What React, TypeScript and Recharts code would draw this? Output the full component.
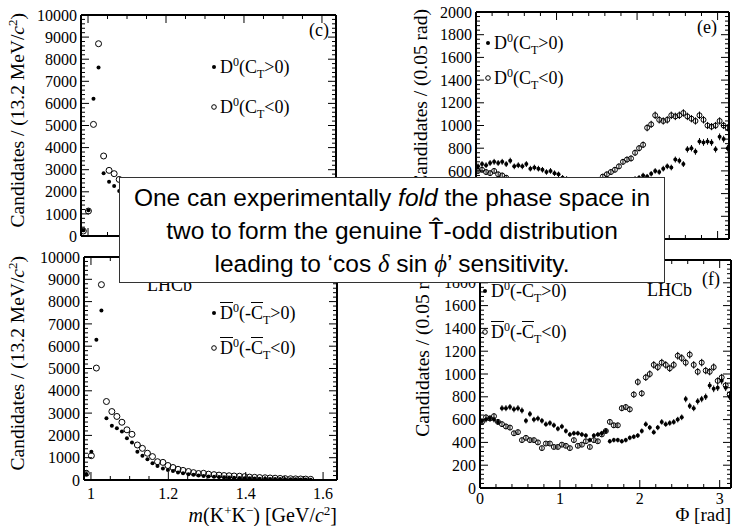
import React from "react";
import { ScatterChart, Scatter, XAxis, YAxis, ErrorBar } from "recharts";

const W = 732;
const H = 526;
const SERIF = '"Liberation Serif", "Times New Roman", serif';
const SANS = '"Liberation Sans", Arial, sans-serif';

// m(K+K-) bin centres, 13.2 MeV bins
const massBins = [
  0.988, 1.001, 1.014, 1.027, 1.04, 1.054, 1.067, 1.08, 1.093, 1.106, 1.12, 1.133, 1.146, 1.159, 1.172,
  1.186, 1.199, 1.212, 1.225, 1.238, 1.252, 1.265, 1.278, 1.291, 1.304, 1.318, 1.331, 1.344, 1.357, 1.37,
  1.384, 1.397, 1.41, 1.423, 1.436, 1.45, 1.463, 1.476, 1.489, 1.502, 1.516, 1.529, 1.542, 1.555, 1.568,
];
// panel (c): D0
const d0PosMass = [
  256, 1160, 6210, 7620, 2840, 2460, 2260, 2040, 1900, 1700, 1300, 1100, 950, 780, 650, 540, 460, 400, 350,
  300, 260, 230, 200, 180, 160, 145, 130, 120, 110, 100, 90, 80, 75, 70, 60, 55, 50, 45, 40, 35, 35, 30, 25,
  20, 15,
];
const d0NegMass = [
  226, 1130, 5050, 8700, 3620, 2970, 2820, 2560, 2280, 2060, 1600, 1430, 1220, 1060, 840, 800, 660, 570, 490,
  440, 390, 340, 300, 300, 260, 240, 220, 200, 190, 180, 170, 150, 130, 120, 110, 100, 90, 80, 70, 60, 55, 50,
  45, 40, 30,
];
// panel (d): D0bar
const dbPosMass = [
  270, 1270, 6290, 7600, 2770, 2430, 2320, 2170, 1870, 1680, 1270, 1090, 930, 750, 630, 520, 450, 400, 340,
  300, 260, 230, 200, 180, 160, 150, 130, 120, 110, 100, 90, 80, 75, 70, 60, 55, 50, 45, 40, 35, 35, 30, 25,
  20, 15,
];
const dbNegMass = [
  300, 1090, 5020, 8760, 3520, 3070, 2850, 2590, 2250, 2050, 1570, 1420, 1200, 1050, 820, 790, 650, 560, 480,
  430, 380, 330, 290, 300, 260, 240, 220, 200, 190, 180, 170, 150, 130, 120, 110, 100, 90, 80, 70, 60, 55, 50,
  45, 40, 30,
];

// Phi bin centres, 0.05 rad bins
const phiBins = [
  0.025, 0.075, 0.125, 0.175, 0.225, 0.275, 0.325, 0.375, 0.425, 0.475, 0.525, 0.575, 0.625, 0.675, 0.725,
  0.775, 0.825, 0.875, 0.925, 0.975, 1.025, 1.075, 1.125, 1.175, 1.225, 1.275, 1.325, 1.375, 1.425, 1.475,
  1.525, 1.575, 1.625, 1.675, 1.725, 1.775, 1.825, 1.875, 1.925, 1.975, 2.025, 2.075, 2.125, 2.175, 2.225,
  2.275, 2.325, 2.375, 2.425, 2.475, 2.525, 2.575, 2.625, 2.675, 2.725, 2.775, 2.825, 2.875, 2.925, 2.975,
  3.025, 3.075, 3.125,
];
// panel (e): D0
const d0PosPhi = [
  640, 660, 650, 670, 680, 670, 680, 660, 690, 640, 650, 640, 660, 620, 630, 620, 610, 590, 600, 580,
  570, 540, 530, 520, 500, 490, 480, 470, 480, 470, 460, 470, 480, 470, 490, 500, 490, 510, 520, 530,
  540, 560, 550, 575, 600, 590, 620, 640, 630, 700, 690, 660, 790, 800, 770, 860, 850, 860, 850, 790,
  900, 880, 800,
];
const d0NegPhi = [
  600, 610, 590, 580, 600, 570, 560, 540, 520, 500, 490, 470, 460, 440, 430, 420, 410, 400, 410, 390,
  400, 390, 400, 410, 400, 420, 430, 440, 460, 480, 520, 550, 570, 590, 610, 640, 680, 700, 710, 760,
  800, 830, 980, 1010, 1090, 1050, 1040, 1050, 1090, 1080, 1090, 1110, 1080, 1060, 1040, 1090, 1050, 1000,
  990, 1000, 1040, 1000, 980,
];
// panel (f): D0bar
const dbPosPhi = [
  590, 600, 610, 600, 580, 700, 700, 710, 690, 700, 680, 590, 650, 600, 610, 590, 560, 570, 550, 520,
  540, 500, 470, 480, 480, 470, 460, 420, 460, 470, 480, 500, 410, 420, 420, 410, 420, 440, 450, 460,
  500, 560, 530, 490, 530, 580, 560, 570, 580, 600, 620, 780, 720, 700, 760, 780, 800, 900, 870, 880,
  940, 880, 800,
];
const dbNegPhi = [
  580, 620, 610, 630, 580, 560, 540, 530, 480, 490, 420, 440, 420, 420, 400, 350, 390, 390, 360, 360,
  380, 370, 350, 420, 370, 380, 410, 360, 420, 410, 470, 500, 580, 550, 550, 700, 710, 690, 820, 930,
  830, 970, 1000, 1080, 1060, 1100, 1080, 1050, 1080, 1160, 1140, 1100, 1170, 1080, 1020, 1100, 1030, 1020,
  1060, 940, 970, 900, 820,
];

// major ticks (and their labels)
const massYLabels = [0, 1000, 2000, 3000, 4000, 5000, 6000, 7000, 8000, 9000, 10000];
const massXLabels = [1, 1.2, 1.4, 1.6];
const phiYLabels = [0, 200, 400, 600, 800, 1000, 1200, 1400, 1600, 1800, 2000];
const phiXLabels = [0, 1, 2, 3];
// labels that are not hidden behind the text box
const phiYTextTop = [600, 800, 1000, 1200, 1400, 1600, 1800, 2000];
const phiYTextBottom = [0, 200, 400, 600, 800, 1000, 1200, 1400, 1600, 1800];

const range = (from: number, to: number, step: number) => {
  const out: number[] = [];
  for (let i = 0; from + i * step <= to + 1e-9; i++) out.push(+(from + i * step).toFixed(4));
  return out;
};

const massYTicks = range(0, 10000, 200);
const massXTicks = range(1, 1.6, 0.05);
const phiYTicks = range(0, 2000, 40);
const phiXTicks = range(0, 3, 0.2);

const toPoints = (xs: number[], ys: number[]) => xs.map((x, i) => ({ x, y: ys[i], err: Math.sqrt(ys[i]) }));

type Side = "left" | "right" | "top" | "bottom";

const has = (list: number[], v: number) => list.some((l) => Math.abs(l - v) < 1e-6);

// ROOT style: ticks point inwards, labels outside
function makeTick(side: Side, majors: number[], texts: number[], labelGap = 19) {
  return (props: any) => {
    const { x, y, payload } = props;
    const v = payload.value as number;
    const len = has(majors, v) ? 8 : 4;
    const ln =
      side === "left"
        ? { x1: x, x2: x + len, y1: y, y2: y }
        : side === "right"
        ? { x1: x, x2: x - len, y1: y, y2: y }
        : side === "top"
        ? { x1: x, x2: x, y1: y, y2: y + len }
        : { x1: x, x2: x, y1: y, y2: y - len };
    const show = has(texts, v);
    return (
      <g>
        <line {...ln} stroke="#000" strokeWidth={1} />
        {show && side === "left" && (
          <text x={x - 4} y={y} dy="0.35em" textAnchor="end" fontFamily={SERIF} fontSize={16} fill="#000">
            {String(v)}
          </text>
        )}
        {show && side === "bottom" && (
          <text x={x} y={y + labelGap} textAnchor="middle" fontFamily={SERIF} fontSize={16} fill="#000">
            {String(v)}
          </text>
        )}
      </g>
    );
  };
}

const dot = (p: any) => <circle cx={p.cx} cy={p.cy} r={2} fill="#000" />;
const ring = (r: number) => (p: any) => <circle cx={p.cx} cy={p.cy} r={r} fill="none" stroke="#000" strokeWidth={1} />;

interface PanelProps {
  box: { l: number; t: number; r: number; b: number };
  xDomain: [number, number];
  yDomain: [number, number];
  xTicks: number[];
  xLabels: number[];
  xText: number[];
  labelGap: number;
  yTicks: number[];
  yLabels: number[];
  yText: number[];
  filled: { x: number; y: number; err: number }[];
  open: { x: number; y: number; err: number }[];
  errors: boolean;
  ringR: number;
}

// axes are 1px thick so that recharts still draws them; margins are shifted by that pixel
function Panel(p: PanelProps) {
  const margin = { left: p.box.l - 1, top: p.box.t - 1, right: W - p.box.r - 1, bottom: H - p.box.b - 1 };
  const axisLine = { stroke: "#000", strokeWidth: 2 };
  return (
    <div style={{ position: "absolute", left: 0, top: 0 }}>
      <ScatterChart width={W} height={H} margin={margin}>
        <XAxis xAxisId="b" type="number" dataKey="x" domain={p.xDomain} ticks={p.xTicks} interval={0}
          orientation="bottom" height={1} tickSize={0} tickMargin={0} tickLine={false} axisLine={axisLine}
          tick={makeTick("bottom", p.xLabels, p.xText, p.labelGap)} allowDataOverflow />
        <XAxis xAxisId="t" type="number" dataKey="x" domain={p.xDomain} ticks={p.xTicks} interval={0}
          orientation="top" height={1} tickSize={0} tickMargin={0} tickLine={false} axisLine={axisLine}
          tick={makeTick("top", p.xLabels, [])} allowDataOverflow />
        <YAxis yAxisId="l" type="number" dataKey="y" domain={p.yDomain} ticks={p.yTicks} interval={0}
          orientation="left" width={1} tickSize={0} tickMargin={0} tickLine={false} axisLine={axisLine}
          tick={makeTick("left", p.yLabels, p.yText)} allowDataOverflow />
        <YAxis yAxisId="r" type="number" dataKey="y" domain={p.yDomain} ticks={p.yTicks} interval={0}
          orientation="right" width={1} tickSize={0} tickMargin={0} tickLine={false} axisLine={axisLine}
          tick={makeTick("right", p.yLabels, [])} allowDataOverflow />
        <Scatter xAxisId="b" yAxisId="l" data={p.open} shape={ring(p.ringR)} isAnimationActive={false}>
          {p.errors && <ErrorBar dataKey="err" direction="y" width={0} stroke="#000" strokeWidth={1} />}
        </Scatter>
        <Scatter xAxisId="b" yAxisId="l" data={p.filled} shape={dot} isAnimationActive={false}>
          {p.errors && <ErrorBar dataKey="err" direction="y" width={0} stroke="#000" strokeWidth={1} />}
        </Scatter>
      </ScatterChart>
    </div>
  );
}

function LegendEntry({ x, y, open, bar }: { x: number; y: number; open: boolean; bar: boolean }) {
  const over: React.CSSProperties = bar ? { textDecoration: "overline" } : {};
  return (
    <div style={{ position: "absolute", left: x, top: y - 10, fontFamily: SERIF, fontSize: 18, lineHeight: "20px", whiteSpace: "nowrap", color: "#000" }}>
      <svg width={9} height={8} style={{ verticalAlign: "middle", position: "relative", top: -2 }}>
        {open ? <circle cx={3} cy={4} r={2.3} fill="none" stroke="#000" strokeWidth={1} /> : <circle cx={3} cy={4} r={2} fill="#000" />}
      </svg>
      <span style={over}>D</span>
      <span style={{ fontSize: 12, verticalAlign: "7px", lineHeight: 0 }}>0</span>
      {bar ? "(-" : "("}
      <span style={over}>C</span>
      <span style={{ fontSize: 12, verticalAlign: "-5px", lineHeight: 0 }}>T</span>
      {open ? "<0)" : ">0)"}
    </div>
  );
}

function YTitle({ x, y, children }: { x: number; y: number; children: React.ReactNode }) {
  return (
    <text transform={`translate(${x},${y}) rotate(-90)`} textAnchor="end" dy="0.35em" fontFamily={SERIF} fontSize={19.5} fill="#000">
      {children}
    </text>
  );
}

export default function App() {
  const massTitle = (
    <>
      Candidates / (13.2 MeV/<tspan fontStyle="italic">c</tspan>
      <tspan dy={-7} fontSize={13}>2</tspan>
      <tspan dy={7}>)</tspan>
    </>
  );
  return (
    <div style={{ position: "absolute", left: 0, top: 0, width: W, height: H, background: "#fff", overflow: "hidden" }}>
      <Panel box={{ l: 81, t: 15, r: 336, b: 236 }} xDomain={[0.982, 1.636]} yDomain={[0, 10000]}
        xTicks={massXTicks} xLabels={massXLabels} xText={[]} labelGap={19} yTicks={massYTicks} yLabels={massYLabels} yText={massYLabels}
        filled={toPoints(massBins, d0PosMass)} open={toPoints(massBins, d0NegMass)} errors={false} ringR={3} />
      <Panel box={{ l: 84, t: 257, r: 337, b: 480 }} xDomain={[0.982, 1.636]} yDomain={[0, 10000]}
        xTicks={massXTicks} xLabels={massXLabels} xText={massXLabels} labelGap={19} yTicks={massYTicks} yLabels={massYLabels} yText={massYLabels}
        filled={toPoints(massBins, dbPosMass)} open={toPoints(massBins, dbNegMass)} errors={false} ringR={3} />
      <Panel box={{ l: 476, t: 12, r: 729, b: 239 }} xDomain={[0, 3.1416]} yDomain={[0, 2000]}
        xTicks={phiXTicks} xLabels={phiXLabels} xText={[]} labelGap={17} yTicks={phiYTicks} yLabels={phiYLabels} yText={phiYTextTop}
        filled={toPoints(phiBins, d0PosPhi)} open={toPoints(phiBins, d0NegPhi)} errors={true} ringR={2.5} />
      <Panel box={{ l: 480, t: 260, r: 731, b: 488 }} xDomain={[0, 3.1416]} yDomain={[0, 2000]}
        xTicks={phiXTicks} xLabels={phiXLabels} xText={phiXLabels} labelGap={16} yTicks={phiYTicks} yLabels={phiYLabels} yText={phiYTextBottom}
        filled={toPoints(phiBins, dbPosPhi)} open={toPoints(phiBins, dbNegPhi)} errors={true} ringR={2.5} />

      <svg width={W} height={H} style={{ position: "absolute", left: 0, top: 0 }}>
        <YTitle x={17} y={13}>{massTitle}</YTitle>
        <YTitle x={17} y={256}>{massTitle}</YTitle>
        <YTitle x={420} y={9}>Candidates / (0.05 rad)</YTitle>
        <YTitle x={422} y={258}>Candidates / (0.05 rad)</YTitle>
        <text x={329} y={36} textAnchor="end" fontFamily={SERIF} fontSize={18}>(c)</text>
        <text x={717} y={33} textAnchor="end" fontFamily={SERIF} fontSize={18}>(e)</text>
        <text x={720} y={285} textAnchor="end" fontFamily={SERIF} fontSize={18}>(f)</text>
        <text x={147} y={291} fontFamily={SERIF} fontSize={18}>LHCb</text>
        <text x={647} y={296} fontFamily={SERIF} fontSize={18}>LHCb</text>
        <text x={337} y={522} textAnchor="end" fontFamily={SERIF} fontSize={20}>
          <tspan fontStyle="italic">m</tspan>(K<tspan dy={-7} fontSize={13}>+</tspan>
          <tspan dy={7}>K</tspan><tspan dy={-7} fontSize={13}>−</tspan>
          <tspan dy={7}>)  [GeV/</tspan><tspan fontStyle="italic">c</tspan>
          <tspan dy={-7} fontSize={13}>2</tspan><tspan dy={7}>]</tspan>
        </text>
        <text x={731} y={521} textAnchor="end" fontFamily={SERIF} fontSize={19}>Φ [rad]</text>
      </svg>

      <LegendEntry x={211} y={67} open={false} bar={false} />
      <LegendEntry x={211} y={107} open={true} bar={false} />
      <LegendEntry x={211} y={313} open={false} bar={true} />
      <LegendEntry x={211} y={348} open={true} bar={true} />
      <LegendEntry x={485} y={43} open={false} bar={false} />
      <LegendEntry x={485} y={78} open={true} bar={false} />
      <LegendEntry x={482} y={291} open={false} bar={true} />
      <LegendEntry x={482} y={332} open={true} bar={true} />

      <div style={{ position: "absolute", left: 119, top: 177, width: 546, height: 106, boxSizing: "border-box", border: "1px solid #333", background: "#fff", fontFamily: SANS, fontSize: 24.5, lineHeight: "33px", textAlign: "center", paddingTop: 3, color: "#000", whiteSpace: "nowrap" }}>
        <div>One can experimentally <i>fold</i> the phase space in</div>
        <div>two to form the genuine T{"\u0302"}-odd distribution</div>
        <div>
          leading to ‘cos <i style={{ fontFamily: SERIF }}>δ</i> sin <i style={{ fontFamily: SERIF }}>ϕ</i>’ sensitivity.
        </div>
      </div>
    </div>
  );
}
